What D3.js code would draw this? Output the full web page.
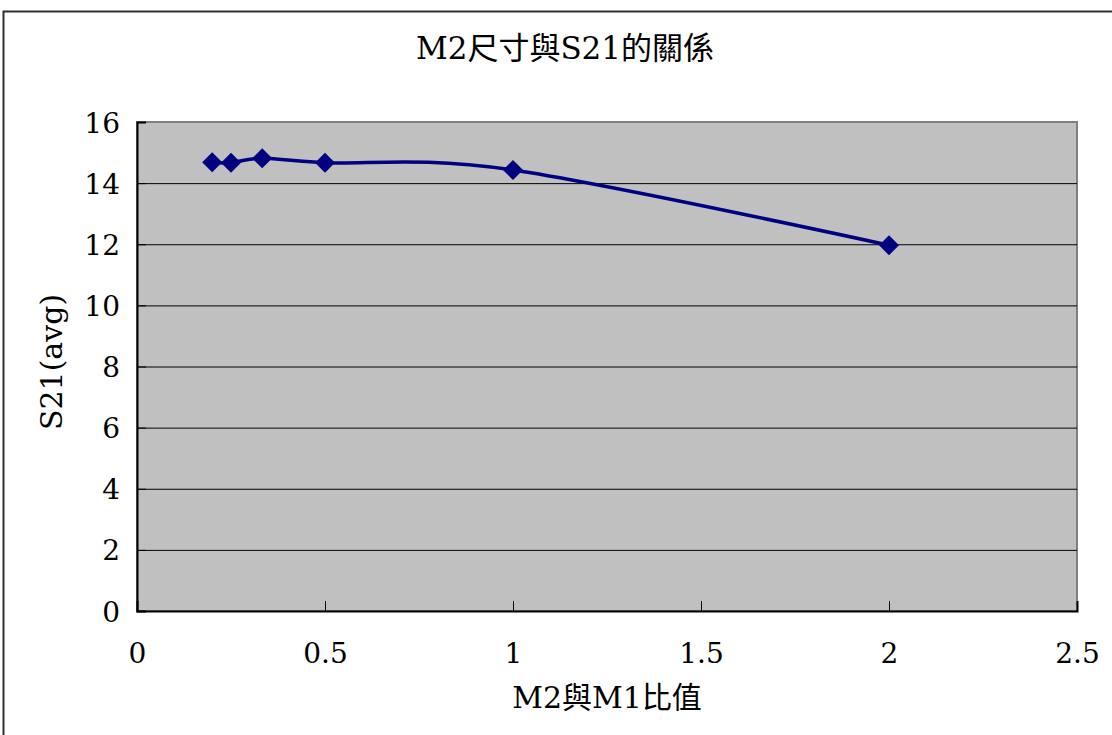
<!DOCTYPE html>
<html><head><meta charset="utf-8">
<script src="https://cdn.jsdelivr.net/npm/d3@7"></script>
<style>body{margin:0;background:#fff}svg{display:block}</style>
</head><body>
<svg id="c" width="1112" height="735"></svg>
<script>
const ratio = [0.2, 0.25, 0.333, 0.5, 1, 2];
const s21 = [14.68, 14.67, 14.81, 14.67, 14.43, 11.97];
const xTicks = [0, 0.5, 1, 1.5, 2, 2.5];
const yTicks = [0, 2, 4, 6, 8, 10, 12, 14, 16];
const title = "M2尺寸與S21的關係";
const xTitle = "M2與M1比值";
const yTitle = "S21(avg)";

const svg = d3.select("#c");
const font = "'DejaVu Serif','Noto Sans CJK TC',serif";
const L = 137, R = 1077, T = 122, B = 611;
const x = d3.scaleLinear().domain([0, 2.5]).range([L, R]);
const y = d3.scaleLinear().domain([0, 16]).range([B, T]);

// outer chart border
svg.append("rect").attr("x", 3.5).attr("y", 11.5).attr("width", 1200).attr("height", 800)
  .attr("fill", "none").attr("stroke", "#303030").attr("stroke-width", 2);

// plot area
svg.append("rect").attr("x", L).attr("y", T).attr("width", R - L).attr("height", B - T)
  .attr("fill", "#C0C0C0").attr("stroke", "#808080").attr("stroke-width", 2);

// gridlines
svg.append("g").selectAll("line").data(yTicks.filter(d => d > 0 && d < 16)).join("line")
  .attr("x1", L).attr("x2", R).attr("y1", d => y(d) + 0.5).attr("y2", d => y(d) + 0.5)
  .attr("stroke", "#000").attr("stroke-width", 1);

// axes
const yAxis = d3.axisLeft(y).tickValues(yTicks).tickSize(-9).tickPadding(17).tickFormat(d3.format("d"));
const gy = svg.append("g").attr("transform", `translate(${L},0)`).call(yAxis);
const xAxis = d3.axisBottom(x).tickValues(xTicks).tickSize(-10).tickPadding(32).tickFormat(d => String(d));
const gx = svg.append("g").attr("transform", `translate(0,${B})`).call(xAxis);
[gx, gy].forEach(g => {
  g.select(".domain").attr("stroke", "#000").attr("stroke-width", 2);
  g.selectAll(".tick line").attr("stroke", "#000");
  g.selectAll("text").attr("font-family", font).attr("font-size", 28).attr("fill", "#000");
});
gy.selectAll("text").attr("dy", "0.36em");

// line
const pts = ratio.map((r, i) => [r, s21[i]]);
svg.append("path").datum(pts)
  .attr("d", d3.line().x(d => x(d[0])).y(d => y(d[1])).curve(d3.curveCardinal.tension(0)))
  .attr("fill", "none").attr("stroke", "#000080").attr("stroke-width", 3.5);

// markers
svg.append("g").selectAll("path").data(pts).join("path")
  .attr("transform", d => `translate(${x(d[0])},${y(d[1])})`)
  .attr("d", "M0,-10L10,0L0,10L-10,0Z").attr("fill", "#000080");

// titles
svg.append("text").attr("x", 565).attr("y", 59).attr("text-anchor", "middle")
  .attr("font-family", font).attr("font-size", 31).text(title);
svg.append("text").attr("x", 607).attr("y", 708).attr("text-anchor", "middle")
  .attr("font-family", font).attr("font-size", 30).text(xTitle);
svg.append("text").attr("transform", "translate(62,362) rotate(-90)").attr("text-anchor", "middle")
  .attr("font-family", font).attr("font-size", 30).text(yTitle);
</script>
</body></html>
